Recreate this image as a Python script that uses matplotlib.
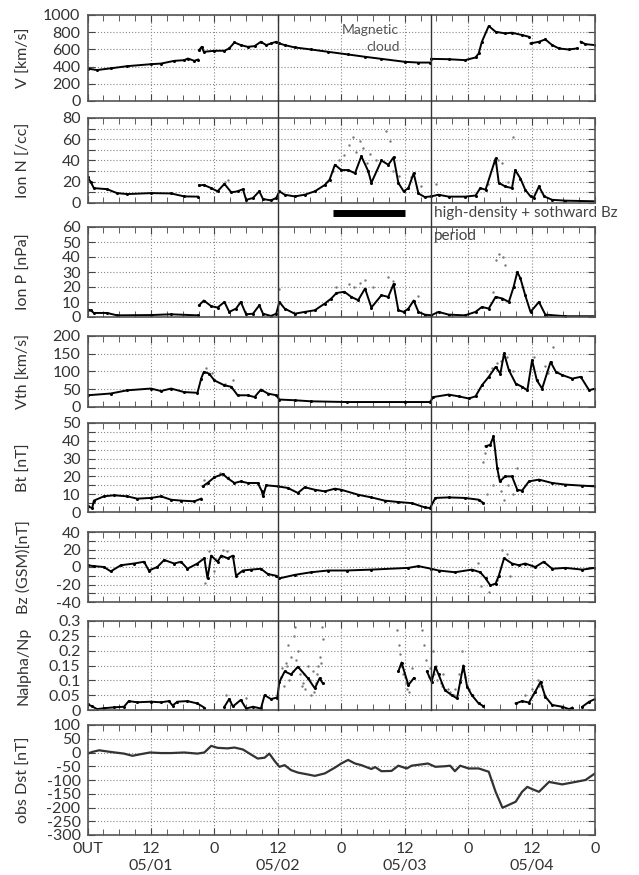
import numpy as np
import matplotlib
matplotlib.use("Agg")
import matplotlib.pyplot as plt
from matplotlib.lines import Line2D
from matplotlib import transforms

plt.rcParams['font.family'] = ['Lato', 'DejaVu Sans']
nan = np.nan

# ---- data (hours from 05/01 00 UT) ----
v_hr = [0, 1.8, 4.4, 7.5, 12, 13.9, 16.4, 18.3, 19, 20.2, 20.9, nan, 21.1, 21.6, 22, 24, 25.9, 26.8,
        27.8, 29, 30.3, 31.6, 32.8, 33.8, 34.7, 35.7, 36.3, 37.3, 39.2, 42.3, 45.5, 49.3, 52.5, 55.6,
        60.1, 62.6, 64.8, nan, 65, 68.3, 71.4, 73.4, 74, 74.6, 75.9, 77.2, 79, 80.3, 82.2, 83.5, nan,
        83.8, 85.4, 86.6, 87.9, 89.2, 91, 92.6, nan, 93.3, 94.2, 96]
v_val = [377, 360, 380, 405, 428, 435, 467, 475, 494, 467, 482, nan, 591, 630, 572, 584, 584, 611,
         681, 650, 630, 638, 689, 650, 669, 689, 669, 650, 623, 599, 572, 541, 514, 490,
         455, 447, 447, nan, 490, 486, 475, 506, 553, 689, 872, 805, 786, 794, 767, 747, nan,
         669, 689, 716, 650, 611, 599, 611, nan, 689, 661, 650]

n_hr = [0, 0.6, 1.2, 3.7, 5.6, 7.5, 12, 15.8, 18.3, 20.9, nan, 21.1, 22, 23.4, 24.6, 25.9, 27.2, 28.4,
        29.4, 30, 31.3, 32.5, 33.2, 34.7, 35.7, 36.3, 37.3, 39.2, 41.1, 43, 44.9, 45.8, 46.8, 48, 49.3,
        50.6, 51.8, 53.1, 53.7, 55.6, 56.9, 57.9, 58.8, 59.8, 60.7, 61.7, 62.6, 63.8, 65, 66.4, 68.3,
        71.4, 73.4, 74.3, 75.3, 77.2, 77.8, 79, 80.3, 80.9, 81.9, 82.8, 83.8, 84.4, 85.4, 86.4, 87.9,
        90.4, 96]
n_val = [24, 20, 14, 13, 9.3, 8.4, 9.3, 9, 6.2, 6, nan, 16.5, 17, 14, 11, 18, 10, 11,
         13, 3, 4.7, 11, 3.7, 2.5, 4.7, 11, 7.8, 6.2, 7.8, 11, 17, 22, 36, 31, 31,
         28, 44, 30, 19, 40, 36, 43, 19, 11, 14, 28, 9, 5.6, 6.2, 7.8, 6,
         6, 7, 14, 12.5, 42, 19, 15.6, 14, 31, 23, 12.5, 6.2, 5, 15.6, 6.2, 3,
         2.2, 1.6]
n_sc_hr = [26, 26.5, 46.5, 47.5, 48.5, 49.5, 50.2, 50.8, 51.5, 52.2, 52.8, 53.5, 54.5, 56.5, 57.2,
           57.8, 59, 61.2, 63, 66, 75.8, 77.0, 77.6, 78.5, 79.5, 80.5]
n_sc_val = [20, 22, 30, 40, 45, 55, 62, 48, 58, 52, 38, 46, 40, 68, 58,
            30, 25, 24, 16, 18, 18, 38, 40, 38, 20, 62]

p_hr = [0, 0.6, 1.2, 3.7, 5.6, 12, 15.8, 20.9, nan, 21.1, 22, 23.4, 24.6, 25.9, 26.8, 28.1, 29, 30,
        31.3, 32.5, 33.2, 34.7, 35.7, 36.3, 37.3, 39.2, 41.1, 43, 44.9, 46.1, 47.1, 48.6, 49.9, 51.2,
        52.5, 53.7, 55.6, 56.9, 57.9, 58.8, 59.8, 60.7, 61.7, 62.6, 63.8, 65, 66.4, 68.3, 71.4, 73.4,
        74.6, 75.9, 77.2, 78.5, 79.7, 80.6, 81.3, 81.9, 82.8, 83.8, 85.4, 86.6, 90.4, 96]
p_val = [5, 4.5, 2.7, 2.7, 1.1, 1.3, 1.8, 1.1, nan, 7.8, 11, 7.2, 6.3, 10, 3.4, 5.6, 10, 1.8,
         2.2, 7.8, 2.2, 0.7, 2.2, 10, 5.6, 2.2, 3.4, 4.5, 9, 12.3, 16, 16.8, 13.4, 11.2,
         19, 6.3, 14.5, 13.4, 22, 4.5, 3.4, 5.6, 11, 3.4, 1.6, 1.1, 3.4, 1.6, 1.1, 3.4,
         6.7, 5.6, 13.4, 12.3, 10, 20, 30, 25.7, 14.5, 3.4, 10, 1.6, 0.5, 0.5]
p_sc_hr = [36.3, 47, 49.5, 50.5, 51.5, 52.5, 54, 56.8, 57.8, 62.5, 76.8, 77.3, 77.8, 78.6, 79]
p_sc_val = [19, 20, 22, 20, 23, 25, 20, 27, 24, 14, 17, 38, 42, 40, 35]

vth_hr = [0, 4.4, 7.5, 12, 13.9, 15.8, 18.3, 20.8, 21.5, 22, 23, 24, 25.9, 27.2, 28.4, 30.3, 31.6,
          32.8, 34.1, 35.7, 36.3, 39.2, 42.3, 49, 60.1, 64.8, 65.4, 68.3, 70.2, 72.1, 73.4, 74.6,
          75.9, 77.2, 78.1, 78.8, 79.7, 81, 82.2, 83.2, 84.1, 85, 86, 87.6, 88.6, 89.8, 91.7, 93.3,
          94.9, 96]
vth_val = [33, 38, 47, 52, 45, 52, 42, 40, 80, 99, 94, 75, 61, 57, 33, 33, 28,
           49, 38, 33, 21, 19, 16, 14, 14, 14, 28, 35, 30, 24, 30, 61,
           85, 113, 94, 151, 104, 66, 57, 47, 132, 75, 52, 127, 99, 90, 80, 85,
           47, 52]
vth_sc_hr = [22.5, 23.5, 26, 27.5, 75.5, 76.5, 77.5, 78.2, 79.3, 80.5, 84.5, 86.5, 87.2, 88]
vth_sc_val = [110, 95, 65, 75, 100, 110, 125, 130, 140, 100, 140, 115, 95, 170]

bt_hr = [0, 0.9, 1.2, 3.1, 5, 7.5, 9.4, 12, 13.9, 15.8, 17.7, 20.2, 21.5, nan, 21.8, 22.7, 24, 25.6,
         26.5, 27.8, 29, 30.3, 32.2, 33, 33.2, 33.8, 36, 37.9, 39.8, 41.1, 43, 44.9, 46.8, 48, 51.2,
         53.7, 56.2, 58.8, 61.3, 63.8, 64.8, 65.8, 68.3, 71.4, 74, 74.9, nan, 75.3, 76.2, 76.8, 77.5,
         78, 79, 80.3, 81.3, 82.2, 83.5, 85.4, 87.9, 90.4, 93.6, 96]
bt_val = [3.2, 2.2, 6.4, 8.8, 9.4, 8.8, 7.5, 7.9, 8.8, 6.9, 6.4, 6, 7.5, nan, 14.4, 16.3, 19.5, 21.3,
          19, 16.3, 17.2, 16.3, 16.3, 11.6, 8.8, 15, 14.4, 13.5, 10.7, 13.9, 12.5, 11.6, 13.1, 12.5, 9.7,
          8.2, 6.4, 5.6, 5, 2.6, 2.2, 7.9, 8.2, 7.9, 6.9, 5, nan, 36.9, 37.8, 42.5, 24.7,
          17.2, 20, 20, 12.5, 12, 17.2, 18.2, 16.3, 15.4, 14.8, 14.4]
bt_sc_hr = [22, 25, 74.8, 75.2, 75.6, 76.8, 77.2, 77.7, 78.2, 78.8, 79.5, 80.5, 81.2]
bt_sc_val = [18, 22, 28, 33, 10, 15, 30, 20, 12, 7, 15, 10, 25]

bz_hr = [0, 1.2, 3.1, 4.4, 6.3, 8.8, 10.7, 11.6, 13.2, 14.5, 16.4, 17.7, 18.9, 20.8, 22.1, 22.7, 23.4,
         24.6, 25.3, 26.5, 27.5, 28.1, 29.4, 30.9, 32.8, 34.1, 35.7, 36.3, 39.2, 42.3, 45.5, 49, 53.7,
         60.7, 62.6, 65, 66.4, 69.5, 72.7, 74.3, 75.3, 76.2, 77.2, 77.8, 78.8, 80.3, 81.6, 82.8, 84.7,
         86.3, 87.9, 90.4, 93.6, 96]
bz_val = [2, 1, 0, -5, 2, 4, 6, -4, 0, 8, 4, 6, -2, 4, 10, -13, 13,
          6, 13, 10, 13, -10, -4, -3, -2, -8, -10, -13, -9, -6, -4, -4, -3,
          -1, 1, -2, -4, -6, -3, -6, -13, -21, -19, -10, 10, 4, 2, 4, 0,
          6, -2, -1, -3, -1]
bz_sc_hr = [22.3, 23, 24, 25.6, 26.3, 73.8, 74.5, 76, 77.5, 78.5, 79.3, 80]
bz_sc_val = [-18, 18, -5, 20, 18, 5, -22, -28, -15, 20, 15, -10]

na_hr = [0, 0.9, 1.8, 3.1, 5, 6.9, 7.8, 9.4, 12, 13.9, 15.4, 16.1, 17, 18.9, 20.8, 22.1, nan, 25.9,
         26.8, 27.5, 29, 30, 31.3, 32.8, 33.5, 34.7, 35.9, 36.3, 37.3, 38.5, 39.8, 41.7, 43, 43.9, 44.5,
         nan, 58.8, 59.4, 60.7, 61.7, nan, 64.2, 65.1, 65.8, 66.4, 67.6, 68.9, 69.9, 70.5, 71.1, 71.8,
         72.7, 74, 74.9, nan, 81, 82.2, 83.5, 84.7, 85.7, 86.6, 87.9, 89.8, 91.1, 91.7, nan, 93.6,
         94.9, 96]
na_val = [0.02, 0.012, 0.003, 0.006, 0.009, 0.011, 0.03, 0.026, 0.028, 0.026, 0.03, 0.015, 0.028, 0.03,
          0.022, 0.008, nan, 0.011, 0.037, 0.012, 0.034, 0.005, 0.011, 0.005, 0.05, 0.037, 0.042, 0.095,
          0.13, 0.12, 0.146, 0.107, 0.073, 0.107, 0.09, nan, 0.13, 0.16, 0.084, 0.107, nan, 0.13, 0.095,
          0.146, 0.12, 0.067, 0.05, 0.039, 0.095, 0.15, 0.079, 0.05, 0.022, 0.013, nan, 0.022, 0.03,
          0.025, 0.062, 0.095, 0.045, 0.017, 0.011, 0.003, 0.008, nan, 0.011, 0.028, 0.037]
na_sc_hr = [26.2, 27, 30, 36.8, 37.2, 37.5, 38, 38.2, 38.5, 39, 39.3, 39.8, 40.2, 40.7, 41.2, 41.7,
            42.2, 42.6, 43.2, 43.6, 44, 44.3, 44.5, 36.6, 37.8, 38.8, 39.5, 40.5, 41.0, 42.0, 42.9,
            43.4, 44.1, 58.6, 58.9, 59.1, 59.6, 60.2, 60.9, 61.4, 59.3, 60.0, 60.5, 63.3,
            63.6, 64, 64.6, 65.4, 66, 66.8, 67.2, 68.2, 69.3, 70.2, 70.8, 71.4, 72.2, 64.8, 65.6,
            66.2, 67.0, 68.6, 69.6, 70.4, 71.0, 82.8, 84.1, 85.2, 86, 84.5, 85.5, 86.3]
na_sc_val = [0.05, 0.03, 0.04, 0.14, 0.08, 0.16, 0.22, 0.1, 0.18, 0.25, 0.28, 0.2, 0.12, 0.09, 0.07,
             0.15, 0.05, 0.13, 0.09, 0.15, 0.18, 0.28, 0.24, 0.11, 0.15, 0.13, 0.17, 0.08, 0.12, 0.1,
             0.06, 0.12, 0.16, 0.27, 0.22, 0.19, 0.12, 0.09, 0.06, 0.14, 0.15, 0.11, 0.07, 0.27,
             0.22, 0.17, 0.11, 0.2, 0.15, 0.09, 0.12, 0.07, 0.05, 0.12, 0.2, 0.11, 0.07, 0.14, 0.12,
             0.1, 0.08, 0.06, 0.07, 0.1, 0.13, 0.05, 0.07, 0.1, 0.08, 0.06, 0.08, 0.05]

dst_hr = [0, 0.9, 2.2, 4.4, 6.9, 8.5, 10.1, 11.8, 13.9, 15.8, 18.3, 20.8, 22.1, 23.4, 24.6, 26.5, 27.8,
          29.4, 30.9, 32.2, 33.5, 34.4, 35.4, 36.3, 37.3, 38.5, 39.8, 41.7, 43, 44.9, 46.8, 48, 49.3,
          50.6, 51.8, 53.7, 54.4, 55.6, 57.5, 58.8, 60.4, 61.3, 64.4, 65.8, 67.6, 68.6, 69.5, 70.5,
          72.1, 74, 75.9, 77.2, 78.5, 81, 82.2, 83.2, 84.1, 85.4, 87.3, 89.8, 92.3, 94.2, 96]
dst_val = [-4, 2, 8, 2, -4, -12, -6, 0, -2, -2, 0, -4, 0, 24, 17, 15, 18,
           11, -7, -22, -19, -4, -31, -52, -46, -64, -73, -80, -85, -76, -55, -40, -27,
           -40, -46, -60, -53, -68, -67, -48, -58, -48, -40, -52, -50, -48, -68, -48,
           -58, -58, -70, -143, -201, -179, -143, -125, -133, -143, -107, -116, -107, -100, -76]

xtick_hr = [0, 12, 24, 36, 48, 60, 72, 84, 96]
xtick_lab = ['0UT', '12', '0', '12', '0', '12', '0', '12', '0']
date_hr = [12, 36, 60, 84]
date_lab = ['05/01', '05/02', '05/03', '05/04']
event_hr = [36, 65]          # vertical lines
bar_hr = [46.5, 60]          # high-density + southward Bz period

# panel setup: (label, ylim, grid step, label step, top px, bottom px)
panels = [
    ('V [km/s]', (0, 1000), 200, 200, 15, 101),
    ('Ion N [/cc]', (0, 80), 10, 20, 118, 203),
    ('Ion P [nPa]', (0, 60), 10, 10, 227, 317),
    ('Vth [km/s]', (0, 200), 50, 50, 336, 407),
    ('Bt [nT]', (0, 50), 5, 10, 423, 512),
    ('Bz (GSM)[nT]', (-40, 40), 10, 20, 532, 602),
    ('Nalpha/Np', (0, 0.3), 0.05, 0.05, 621, 710),
    ('obs Dst [nT]', (-300, 100), 50, 50, 725, 835),
]
series = [(v_hr, v_val, None, None), (n_hr, n_val, n_sc_hr, n_sc_val),
          (p_hr, p_val, p_sc_hr, p_sc_val), (vth_hr, vth_val, vth_sc_hr, vth_sc_val),
          (bt_hr, bt_val, bt_sc_hr, bt_sc_val), (bz_hr, bz_val, bz_sc_hr, bz_sc_val),
          (na_hr, na_val, na_sc_hr, na_sc_val), (dst_hr, dst_val, None, None)]

W, H = 639, 875
fig = plt.figure(figsize=(W / 100, H / 100), dpi=100)
txt = '#333333'
axes = []
for i, (lab, ylim, gstep, lstep, top, bot) in enumerate(panels):
    ax = fig.add_axes([87.5 / W, 1 - bot / H, 507.5 / W, (bot - top) / H])
    axes.append(ax)
    hr, val, shr, sval = series[i]
    if shr is not None:
        ax.scatter(shr, sval, s=3, color='#777777', lw=0)
    if i == 7:
        ax.plot(hr, val, color='#333333', lw=1.6)
    else:
        ax.plot(hr, val, color='black', lw=1.4, marker='o', ms=2.2, mew=0)
    ax.set_xlim(0, 96)
    ax.set_ylim(*ylim)
    yt = np.arange(ylim[0], ylim[1] + gstep / 2, gstep)
    ax.set_yticks(yt)
    ylabs = []
    for y in yt:
        k = (y - ylim[0]) / lstep
        ylabs.append('%g' % round(y, 3) if abs(k - round(k)) < 1e-6 else '')
    ax.set_yticklabels(ylabs)
    ax.set_xticks(xtick_hr)
    ax.set_xticks(np.arange(0, 97, 3), minor=True)
    ax.grid(True, which='major', linestyle=(0, (1, 1.8)), color='#888888', lw=0.8)
    ax.tick_params(which='both', direction='in', top=True, right=True, colors='#444444',
                   labelcolor=txt, labelsize=11.5)
    ax.tick_params(which='major', length=5, pad=5)
    ax.tick_params(which='minor', length=4)
    for s in ax.spines.values():
        s.set_color('#555555')
        s.set_linewidth(1.2)
    ax.set_ylabel(lab, fontsize=11.5, color=txt)
    ax.yaxis.set_label_coords(-0.112, 0.5)
    if i < 7:
        ax.set_xticklabels([])
    else:
        ax.set_xticklabels(xtick_lab)
        for h, d in zip(date_hr, date_lab):
            ax.text(h, -0.285, d, transform=transforms.blended_transform_factory(ax.transData, ax.transAxes),
                    ha='center', va='center', fontsize=11.5, color=txt)

# vertical event lines through all panels down to Nalpha
tr = transforms.blended_transform_factory(axes[0].transData, fig.transFigure)
for h in event_hr:
    fig.add_artist(Line2D([h, h], [1 - 15 / H, 1 - 710 / H], transform=tr, color='#333333', lw=1.0))

# black bar + annotation
fig.add_artist(Line2D(bar_hr, [1 - 213 / H, 1 - 213 / H], transform=tr, color='black', lw=5,
                      solid_capstyle='butt'))
fig.text(434 / W, 1 - 213 / H, 'high-density + sothward Bz', fontsize=11, color='#444444', va='center')
fig.text(434 / W, 1 - 236 / H, 'period', fontsize=11, color='#444444', va='center')

axes[0].text(53.4, 826, 'Magnetic', ha='center', va='center', fontsize=10, color='#555555')
axes[0].text(56.0, 628, 'cloud', ha='center', va='center', fontsize=10, color='#555555')

fig.savefig('out.png', dpi=100)
